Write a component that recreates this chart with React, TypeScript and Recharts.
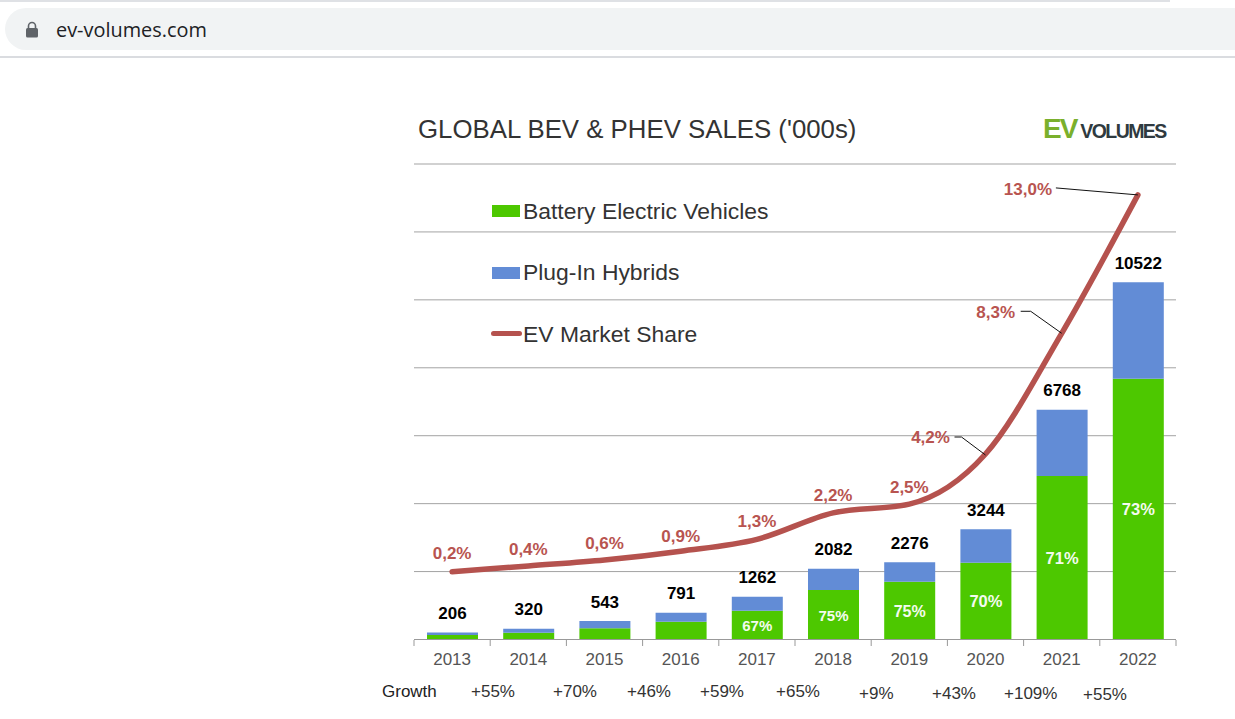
import React from "react";
import {
  ComposedChart,
  Bar,
  Line,
  XAxis,
  YAxis,
  CartesianGrid,
  LabelList,
  Legend,
} from "recharts";

const years = ["2013", "2014", "2015", "2016", "2017", "2018", "2019", "2020", "2021", "2022"];
const bevSales = [133, 200, 330, 525, 846, 1460, 1702, 2262, 4815, 7680];
const totalSales = [206, 320, 543, 791, 1262, 2082, 2276, 3244, 6768, 10522];
const marketShare = [0.2, 0.4, 0.6, 0.9, 1.3, 2.2, 2.5, 4.2, 8.3, 13.0];
const shareLabels = ["0,2%", "0,4%", "0,6%", "0,9%", "1,3%", "2,2%", "2,5%", "4,2%", "8,3%", "13,0%"];
const bevShareLabels = ["", "", "", "", "67%", "75%", "75%", "70%", "71%", "73%"];
const growthLabels = ["+55%", "+70%", "+46%", "+59%", "+65%", "+9%", "+43%", "+109%", "+55%"];

const chartData = years.map((year, i) => ({
  year,
  bev: bevSales[i],
  phev: totalSales[i] - bevSales[i],
  total: totalSales[i],
  share: marketShare[i],
  bevShare: bevShareLabels[i],
}));

const GREEN = "#4dc800";
const BLUE = "#628cd6";
const RED = "#b5524e";
const FONT = '"Liberation Sans", Arial, sans-serif';

const CHART_W = 1235;
const CHART_H = 719;
// the x axis adds its own 30px on top of the bottom margin
const margin = { top: 164, right: 59, bottom: 49.5, left: 414 };
const bandW = (CHART_W - margin.left - margin.right) / years.length;

// label placement around each line point: [dx, dy]
const shareOffsets = [
  [0, -18.5], [0, -16.5], [0, -17.5], [0, -15], [0, -18.5],
  [0, -18], [0, -17.5], [-55, -17], [-66, -21.5], [-110, -6],
];
// leader lines for the last three points, from label side to the point
const leaders: Record<number, string> = {
  7: "-31,-17 -24,-17 0,1",
  8: "-41,-22 -31,-22 0,0",
  9: "-82,-7 0,0",
};
const bevLabelSizes = [0, 0, 0, 0, 15, 15, 16, 16.5, 16.5, 16.5];
const growthX = [471, 553, 627, 700, 776, 859, 932, 1004, 1083];
const growthY = [692, 692, 692, 692, 692, 694, 694, 694, 695];

function YearTick({ x, y, payload, index }: any) {
  return (
    <g>
      <line x1={x - bandW / 2} x2={x - bandW / 2} y1={y - 7.5} y2={y - 1.5} stroke="#999" />
      {index === years.length - 1 && (
        <line x1={x + bandW / 2} x2={x + bandW / 2} y1={y - 7.5} y2={y - 1.5} stroke="#999" />
      )}
      <text x={x} y={y + 17} textAnchor="middle" fontSize={17} fontFamily={FONT} fill="#555">
        {payload.value}
      </text>
    </g>
  );
}

function ShareLabel({ x, y, index }: any) {
  const [dx, dy] = shareOffsets[index];
  const leader = leaders[index];
  return (
    <g>
      {leader && (
        <polyline
          points={leader
            .split(" ")
            .map((p) => {
              const [a, b] = p.split(",").map(Number);
              return `${x + a},${y + b}`;
            })
            .join(" ")}
          fill="none"
          stroke="#111"
          strokeWidth={1}
        />
      )}
      <text
        x={x + dx}
        y={y + dy + 6}
        textAnchor="middle"
        fontSize={17}
        fontWeight="bold"
        fontFamily={FONT}
        fill="#b85450"
      >
        {shareLabels[index]}
      </text>
    </g>
  );
}

function BevLabel({ x, y, width, height, index, value }: any) {
  if (!value) return null;
  return (
    <text
      x={x + width / 2}
      y={y + height / 2 + 6}
      textAnchor="middle"
      fontSize={bevLabelSizes[index]}
      fontWeight="bold"
      fontFamily={FONT}
      fill="#f4fbef"
    >
      {value}
    </text>
  );
}

function LegendBox({ payload }: any) {
  return (
    <div style={{ fontFamily: FONT, fontSize: 22.9, color: "#333", height: 0 }}>
      {(payload || []).map((item: any) => (
        <div key={item.value} style={{ position: "relative", height: 61.5, lineHeight: "26px" }}>
          {item.type === "line" ? (
            <div
              style={{
                position: "absolute",
                left: 0,
                top: 10.5,
                width: 31,
                height: 5,
                borderRadius: 3,
                background: item.color,
              }}
            />
          ) : (
            <div
              style={{
                position: "absolute",
                left: 1,
                top: 7.5,
                width: 28,
                height: 12,
                background: item.color,
              }}
            />
          )}
          <span style={{ position: "absolute", left: 32, whiteSpace: "nowrap" }}>{item.value}</span>
        </div>
      ))}
    </div>
  );
}

export default function App() {
  return (
    <div
      style={{
        position: "absolute",
        left: 0,
        top: 0,
        width: CHART_W,
        height: CHART_H,
        overflow: "hidden",
        background: "#fff",
        fontFamily: FONT,
      }}
    >
      {/* browser address bar */}
      <div style={{ position: "absolute", left: 0, top: 0, width: 1170, height: 2, background: "#dfe1e5" }} />
      <div
        style={{
          position: "absolute",
          left: 5,
          top: 8,
          width: 1260,
          height: 42,
          borderRadius: 21,
          background: "#f1f3f4",
        }}
      />
      <svg style={{ position: "absolute", left: 24, top: 20 }} width={16} height={20}>
        <path d="M4.5 8V6a3.5 3.5 0 0 1 7 0v2" fill="none" stroke="#5f6368" strokeWidth={1.6} />
        <rect x={2} y={8} width={12} height={9.5} rx={1.5} fill="#5f6368" />
      </svg>
      <div
        style={{
          position: "absolute",
          left: 56,
          top: 17,
          fontFamily: '"Open Sans", sans-serif',
          fontSize: 19.9,
          lineHeight: "26px",
          color: "#202124",
        }}
      >
        ev-volumes.com
      </div>
      <div style={{ position: "absolute", left: 0, top: 56, width: 1235, height: 2, background: "#dadce0" }} />

      {/* chart heading and logo */}
      <div
        style={{
          position: "absolute",
          left: 418,
          top: 114,
          fontSize: 25.8,
          lineHeight: "30px",
          color: "#333",
          whiteSpace: "nowrap",
        }}
      >
        GLOBAL BEV &amp; PHEV SALES ('000s)
      </div>
      <div style={{ position: "absolute", left: 1043, top: 113, whiteSpace: "nowrap", lineHeight: "32px" }}>
        <span style={{ fontSize: 28, fontWeight: "bold", color: "#7ab02c", letterSpacing: -2 }}>EV</span>
        <span style={{ fontSize: 19.5, fontWeight: "bold", color: "#2f3a40", marginLeft: 4, letterSpacing: -1.6 }}>
          VOLUMES
        </span>
      </div>

      <ComposedChart
        width={CHART_W}
        height={CHART_H}
        data={chartData}
        margin={margin}
        style={{ position: "absolute", left: 0, top: 0 }}
      >
        <CartesianGrid vertical={false} stroke="#a3a3a3" yAxisId="sales" />
        <XAxis
          dataKey="year"
          stroke="#999"
          tickLine={false}
          tick={<YearTick />}
          interval={0}
          padding={{ left: 0, right: 0 }}
        />
        <YAxis
          yAxisId="sales"
          hide
          domain={[0, 14000]}
          ticks={[0, 2000, 4000, 6000, 8000, 10000, 12000, 14000]}
        />
        <YAxis yAxisId="share" hide orientation="right" domain={[-2.1, 14.05]} />
        <Bar
          yAxisId="sales"
          dataKey="bev"
          name="Battery Electric Vehicles"
          stackId="sales"
          fill={GREEN}
          barSize={51}
          isAnimationActive={false}
        >
          <LabelList dataKey="bevShare" content={<BevLabel />} />
        </Bar>
        <Bar
          yAxisId="sales"
          dataKey="phev"
          name="Plug-In Hybrids"
          stackId="sales"
          fill={BLUE}
          barSize={51}
          isAnimationActive={false}
        >
          <LabelList
            dataKey="total"
            position="top"
            offset={13.5}
            fontSize={17}
            fontWeight="bold"
            fontFamily={FONT}
            fill="#000"
          />
        </Bar>
        <Line
          yAxisId="share"
          dataKey="share"
          name="EV Market Share"
          type="monotone"
          stroke={RED}
          strokeWidth={5.5}
          strokeLinecap="round"
          dot={false}
          label={<ShareLabel />}
          legendType="line"
          isAnimationActive={false}
        />
        <Legend
          itemSorter={null}
          content={<LegendBox />}
          wrapperStyle={{ position: "absolute", left: 491, top: 197.5, width: 300, height: 0, bottom: "auto", right: "auto" }}
        />
      </ComposedChart>

      {/* growth row under the axis */}
      <div style={{ position: "absolute", left: 382, top: 682, fontSize: 17, lineHeight: "20px", color: "#222" }}>
        Growth
      </div>
      {growthLabels.map((g, i) => (
        <div
          key={i}
          style={{
            position: "absolute",
            left: growthX[i],
            top: growthY[i] - 10,
            fontSize: 17,
            lineHeight: "20px",
            color: "#333",
          }}
        >
          {g}
        </div>
      ))}
    </div>
  );
}
